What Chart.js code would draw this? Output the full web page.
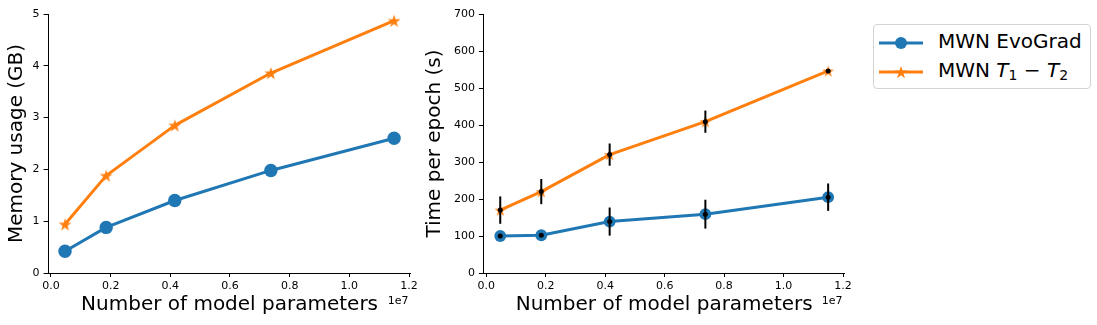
<!DOCTYPE html>
<html>
<head>
<meta charset="utf-8">
<script src="https://cdn.jsdelivr.net/npm/chart.js@4/dist/chart.umd.min.js"></script>
<style>
  body { margin: 0; background: #fff; width: 1097px; height: 325px; overflow: hidden; position: relative;
         font-family: "DejaVu Sans", sans-serif; }
  #memWrap { position: absolute; left: 0; top: 0; width: 420px; height: 325px; }
  #timeWrap { position: absolute; left: 420px; top: 0; width: 440px; height: 325px; }
  #legend { position: absolute; left: 873px; top: 24px; width: 216px; height: 63px;
            border: 1px solid #d4d4d4; border-radius: 4px; background: #fff; }
  #legend .icon { position: absolute; left: 5px; }
  #legend .label { position: absolute; left: 64px; font-size: 20px; line-height: 24px; color: #000; white-space: nowrap; }
  #legend i { font-style: italic; }
  #legend sub { font-size: 0.7em; line-height: 0; vertical-align: -0.22em; }
</style>
</head>
<body>
<div id="memWrap"><canvas id="mem" width="420" height="325"></canvas></div>
<div id="timeWrap"><canvas id="time" width="440" height="325"></canvas></div>
<div id="legend">
  <svg class="icon" style="top:6px" width="44" height="24">
    <line x1="0" y1="12" x2="44" y2="12" stroke="#1f77b4" stroke-width="3"/>
    <circle cx="22" cy="12" r="6" fill="#1f77b4"/>
  </svg>
  <span class="label" style="top:4px">MWN EvoGrad</span>
  <svg class="icon" style="top:35px" width="44" height="24">
    <line x1="0" y1="12" x2="44" y2="12" stroke="#ff7f0e" stroke-width="3"/>
    <polygon id="legendStar" fill="#ff7f0e"/>
  </svg>
  <span class="label" style="top:33px">MWN <i>T</i><sub>1</sub> − <i>T</i><sub>2</sub></span>
</div>
<script>
// Model sizes (number of parameters) shared by both panels
const params = [470000, 1850000, 4150000, 7370000, 11500000];

// Memory usage (GB)
const memEvoGrad = [0.42, 0.88, 1.40, 1.98, 2.60];
const memT1T2 = [0.94, 1.88, 2.85, 3.86, 4.87];

// Time per epoch (s) with standard deviations
const timeEvoGrad = [100, 102, 139, 159, 205];
const timeEvoGradErr = [4, 4, 38, 39, 37];
const timeT1T2 = [170, 220, 320, 409, 546];
const timeT1T2Err = [37, 34, 30, 30, 5];

// Tick values and labels
const xTickValues = [0, 2e6, 4e6, 6e6, 8e6, 1e7, 1.2e7];
const xTickLabels = ['0.0', '0.2', '0.4', '0.6', '0.8', '1.0', '1.2'];
const xOffsetLabel = '1e7';
const memTicks = [0, 1, 2, 3, 4, 5];
const timeTicks = [0, 100, 200, 300, 400, 500, 600, 700];

const seriesNames = ['MWN EvoGrad', 'MWN T1 - T2'];
const xAxisTitle = 'Number of model parameters';
const memAxisTitle = 'Memory usage (GB)';
const timeAxisTitle = 'Time per epoch (s)';

const BLUE = '#1f77b4';
const ORANGE = '#ff7f0e';
const FONT = '"DejaVu Sans", sans-serif';

function starPoints(cx, cy, R) {
  const r = R * 0.381966;
  const pts = [];
  for (let k = 0; k < 10; k++) {
    const a = -Math.PI / 2 + k * Math.PI / 5;
    const rr = k % 2 === 0 ? R : r;
    pts.push([cx + rr * Math.cos(a), cy + rr * Math.sin(a)]);
  }
  return pts;
}

function makeStar(R, color) {
  const size = Math.ceil(2 * R + 2);
  const c = document.createElement('canvas');
  c.width = size; c.height = size;
  const g = c.getContext('2d');
  g.fillStyle = color;
  g.beginPath();
  starPoints(size / 2, size / 2 + R * 0.1, R).forEach(([x, y], i) => i ? g.lineTo(x, y) : g.moveTo(x, y));
  g.closePath();
  g.fill();
  return c;
}

document.getElementById('legendStar').setAttribute('points',
  starPoints(22, 12.7, 6.8).map(p => p.join(',')).join(' '));

const zip = (xs, ys) => xs.map((x, i) => ({ x, y: ys[i] }));

// Vertical error bars drawn just before the dataset that carries them
const errorBars = {
  id: 'errorBars',
  beforeDatasetDraw(chart, args) {
    const ds = chart.data.datasets[args.index];
    if (!ds.errors) return;
    const { ctx, scales: { x, y } } = chart;
    ctx.save();
    ctx.strokeStyle = '#000';
    ctx.lineWidth = 2;
    ds.data.forEach((p, i) => {
      const px = x.getPixelForValue(p.x);
      ctx.beginPath();
      ctx.moveTo(px, y.getPixelForValue(p.y - ds.errors[i]));
      ctx.lineTo(px, y.getPixelForValue(p.y + ds.errors[i]));
      ctx.stroke();
    });
    ctx.restore();
  }
};

// Exponent label under the right end of the x axis
const offsetText = {
  id: 'offsetText',
  afterDraw(chart) {
    const { ctx, chartArea } = chart;
    ctx.save();
    ctx.font = '11px ' + FONT;
    ctx.fillStyle = '#000';
    ctx.textAlign = 'right';
    ctx.textBaseline = 'middle';
    ctx.fillText(xOffsetLabel, chartArea.right - 2, 301);
    ctx.restore();
  }
};

function zeroPad(s) { s.paddingLeft = s.paddingRight = s.paddingTop = s.paddingBottom = 0; }

function xScale() {
  return {
    type: 'linear', min: -80000, max: 12050000,
    afterBuildTicks: s => { s.ticks = xTickValues.map(v => ({ value: v })); },
    ticks: { callback: v => xTickLabels[xTickValues.indexOf(v)], color: '#000',
             font: { size: 11, family: FONT }, padding: 3, maxRotation: 0, autoSkip: false },
    grid: { display: true, drawOnChartArea: false, drawTicks: true, tickLength: 4, tickColor: '#000', tickWidth: 1 },
    border: { display: true, color: '#000', width: 1 },
    title: { display: true, text: xAxisTitle, color: '#000', font: { size: 20, family: FONT },
             padding: { top: 0, bottom: 8 } },
    afterFit: s => { s.height = 52; zeroPad(s); }
  };
}

function yScale(ticks, title, width, titlePad) {
  return {
    type: 'linear', min: ticks[0], max: ticks[ticks.length - 1],
    afterBuildTicks: s => { s.ticks = ticks.map(v => ({ value: v })); },
    ticks: { color: '#000', font: { size: 11, family: FONT }, padding: 4 },
    grid: { display: true, drawOnChartArea: false, drawTicks: true, tickLength: 5, tickColor: '#000', tickWidth: 1 },
    border: { display: true, color: '#000', width: 1 },
    title: { display: true, text: title, color: '#000', font: { size: 20, family: FONT },
             padding: { top: titlePad, bottom: 0 } },
    afterFit: s => { s.width = width; zeroPad(s); }
  };
}

function lineSet(label, ys, color, style, radius, order) {
  return {
    label, data: zip(params, ys), borderColor: color, backgroundColor: color,
    borderWidth: 3, borderJoinStyle: 'round', borderCapStyle: 'round',
    pointStyle: style, pointRadius: radius, pointBorderWidth: 0,
    pointBackgroundColor: color, tension: 0, order, clip: false
  };
}

function dotSet(ys, errs, order) {
  return {
    data: zip(params, ys), errors: errs, showLine: false,
    pointRadius: 2.5, pointBorderWidth: 0, pointBackgroundColor: '#000', order, clip: false
  };
}

function baseOptions(yAxis, padRight) {
  return {
    responsive: false, animation: false, events: [],
    layout: { padding: { left: 0, top: 14, right: padRight, bottom: 0 } },
    plugins: { legend: { display: false }, tooltip: { enabled: false } },
    scales: { x: xScale(), y: yAxis }
  };
}

new Chart(document.getElementById('mem'), {
  type: 'line',
  data: {
    datasets: [
      lineSet(seriesNames[0], memEvoGrad, BLUE, 'circle', 6.7, 2),
      lineSet(seriesNames[1], memT1T2, ORANGE, makeStar(6.8, ORANGE), 6, 1)
    ]
  },
  options: baseOptions(yScale(memTicks, memAxisTitle, 48.6, 5), 9.5),
  plugins: [offsetText]
});

new Chart(document.getElementById('time'), {
  type: 'line',
  data: {
    datasets: [
      lineSet(seriesNames[0], timeEvoGrad, BLUE, 'circle', 5.9, 4),
      lineSet(seriesNames[1], timeT1T2, ORANGE, makeStar(6.2, ORANGE), 6, 3),
      dotSet(timeEvoGrad, timeEvoGradErr, 2),
      dotSet(timeT1T2, timeT1T2Err, 1)
    ]
  },
  options: baseOptions(yScale(timeTicks, timeAxisTitle, 63.9, 3), 15.5),
  plugins: [errorBars, offsetText]
});
</script>
</body>
</html>
